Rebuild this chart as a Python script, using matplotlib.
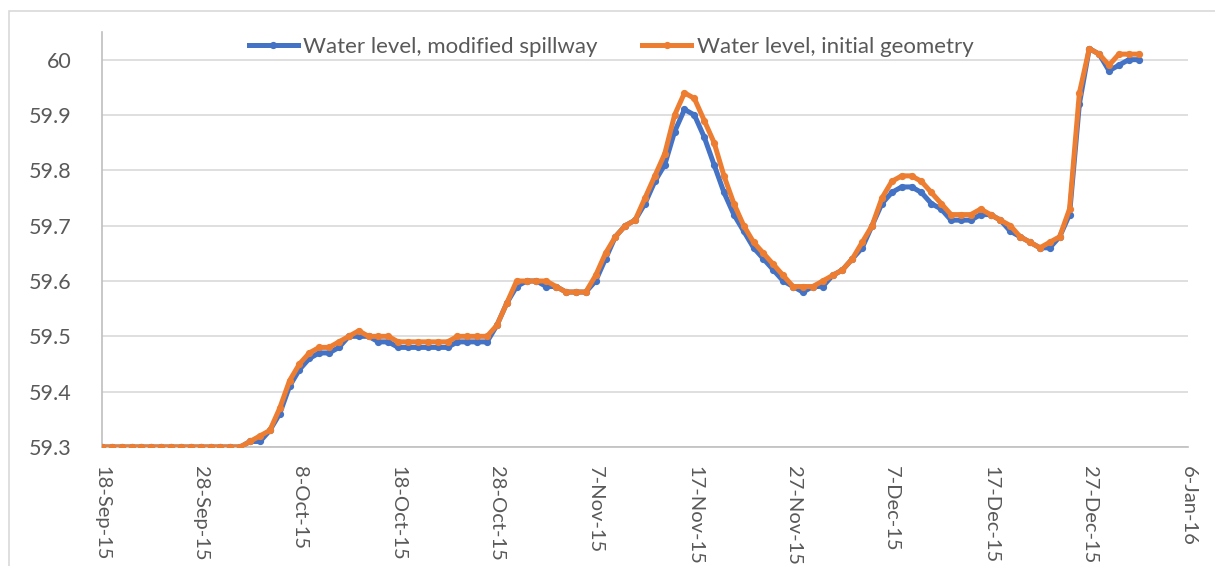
import matplotlib
matplotlib.use("Agg")
import matplotlib.pyplot as plt
from matplotlib.patches import Rectangle
import pandas as pd

start_date = "2015-09-18"
modified_spillway = [
    59.30, 59.30, 59.30, 59.30, 59.30, 59.30, 59.30, 59.30, 59.30, 59.30,
    59.30, 59.30, 59.30, 59.30, 59.30, 59.31, 59.31, 59.33, 59.36, 59.41,
    59.44, 59.46, 59.47, 59.47, 59.48, 59.50, 59.50, 59.50, 59.49, 59.49,
    59.48, 59.48, 59.48, 59.48, 59.48, 59.48, 59.49, 59.49, 59.49, 59.49,
    59.52, 59.56, 59.59, 59.60, 59.60, 59.59, 59.59, 59.58, 59.58, 59.58,
    59.60, 59.64, 59.68, 59.70, 59.71, 59.74, 59.78, 59.81, 59.87, 59.91,
    59.90, 59.86, 59.81, 59.76, 59.72, 59.69, 59.66, 59.64, 59.62, 59.60,
    59.59, 59.58, 59.59, 59.59, 59.61, 59.62, 59.64, 59.66, 59.70, 59.74,
    59.76, 59.77, 59.77, 59.76, 59.74, 59.73, 59.71, 59.71, 59.71, 59.72,
    59.72, 59.71, 59.69, 59.68, 59.67, 59.66, 59.66, 59.68, 59.72, 59.92,
    60.02, 60.01, 59.98, 59.99, 60.00, 60.00,
]
initial_geometry = [
    59.30, 59.30, 59.30, 59.30, 59.30, 59.30, 59.30, 59.30, 59.30, 59.30,
    59.30, 59.30, 59.30, 59.30, 59.30, 59.31, 59.32, 59.33, 59.37, 59.42,
    59.45, 59.47, 59.48, 59.48, 59.49, 59.50, 59.51, 59.50, 59.50, 59.50,
    59.49, 59.49, 59.49, 59.49, 59.49, 59.49, 59.50, 59.50, 59.50, 59.50,
    59.52, 59.56, 59.60, 59.60, 59.60, 59.60, 59.59, 59.58, 59.58, 59.58,
    59.61, 59.65, 59.68, 59.70, 59.71, 59.75, 59.79, 59.83, 59.90, 59.94,
    59.93, 59.89, 59.85, 59.79, 59.74, 59.70, 59.67, 59.65, 59.63, 59.61,
    59.59, 59.59, 59.59, 59.60, 59.61, 59.62, 59.64, 59.67, 59.70, 59.75,
    59.78, 59.79, 59.79, 59.78, 59.76, 59.74, 59.72, 59.72, 59.72, 59.73,
    59.72, 59.71, 59.70, 59.68, 59.67, 59.66, 59.67, 59.68, 59.73, 59.94,
    60.02, 60.01, 59.99, 60.01, 60.01, 60.01,
]
series_labels = ["Water level, modified spillway", "Water level, initial geometry"]
y_ticks = [59.3, 59.4, 59.5, 59.6, 59.7, 59.8, 59.9, 60.0]
y_tick_labels = ["59.3", "59.4", "59.5", "59.6", "59.7", "59.8", "59.9", "60"]
x_tick_dates = pd.date_range("2015-09-18", "2016-01-06", freq="10D")

dates = pd.date_range(start_date, periods=len(modified_spillway), freq="D")

plt.rcParams["font.family"] = ["Lato", "DejaVu Sans"]
text_color = "#595959"
grid_color = "#D9D9D9"

fig = plt.figure(figsize=(12.15, 5.66), dpi=100)
fig.patches.append(Rectangle((9 / 1215, -0.1), 1.2, 1 - 11 / 566 + 0.1,
                             transform=fig.transFigure, fill=False,
                             edgecolor=grid_color, linewidth=1.2))
ax = fig.add_axes([102 / 1215, 1 - 447 / 566, (1188 - 102) / 1215, (447 - 32) / 566])

ax.plot(dates, modified_spillway, color="#4472C4", linewidth=3.6, marker="o",
        markersize=4.2, label=series_labels[0], zorder=3)
ax.plot(dates, initial_geometry, color="#ED7D31", linewidth=3.6, marker="o",
        markersize=4.2, label=series_labels[1], zorder=4)

ax.set_xlim(pd.Timestamp("2015-09-18"), pd.Timestamp("2016-01-06"))
ax.set_ylim(59.3, 60.05)
ax.set_yticks(y_ticks)
ax.set_yticklabels(y_tick_labels)
ax.set_xticks(x_tick_dates)
ax.set_xticklabels([d.strftime("%-d-%b-%y") for d in x_tick_dates],
                   rotation=270, va="top", ha="center")

ax.grid(axis="y", color=grid_color, linewidth=1.2)
ax.set_axisbelow(True)
for s in ["top", "right"]:
    ax.spines[s].set_visible(False)
ax.spines["left"].set_color("#BFBFBF")
ax.spines["bottom"].set_color("#BFBFBF")
ax.spines["left"].set_linewidth(1.2)
ax.spines["bottom"].set_linewidth(1.2)
ax.tick_params(axis="y", length=0, labelsize=15.5, colors=text_color, pad=22)
ax.tick_params(axis="x", length=0, labelsize=14.5, colors=text_color, pad=14)

leg = fig.legend(loc="center", bbox_to_anchor=(611 / 1215, 1 - 47 / 566), ncol=2,
                 frameon=False, fontsize=16, handlelength=2.2, handletextpad=0.25,
                 columnspacing=2.0, labelcolor=text_color)

fig.savefig("out.png", dpi=100)
